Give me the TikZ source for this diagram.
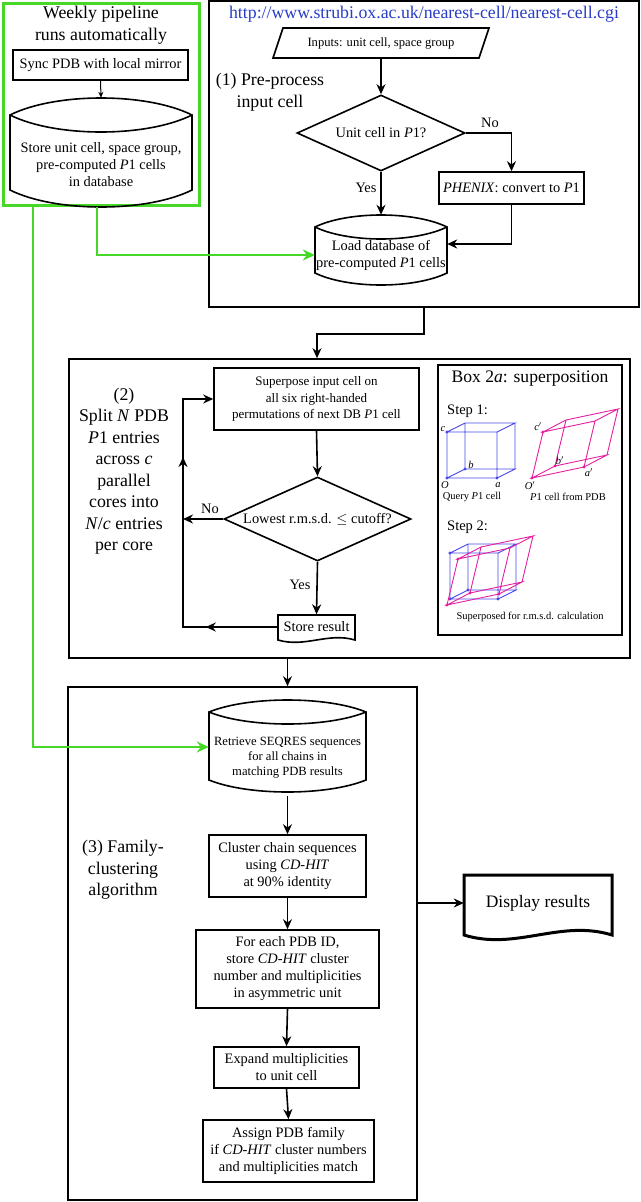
\documentclass[tikz,border=0pt]{standalone}
\usepackage{fontspec}
\setmainfont{Liberation Serif}
\usetikzlibrary{arrows.meta,positioning,calc,shapes.geometric}
\definecolor{grn}{RGB}{70,215,40}
\definecolor{urlblue}{RGB}{40,60,200}
\definecolor{cellblue}{RGB}{70,70,235}
\definecolor{cellmag}{RGB}{230,30,160}
\newcommand{\fbig}{\fontsize{17.8}{21.5}\selectfont}
\newcommand{\fmid}{\fontsize{14.4}{17}\selectfont}
\newcommand{\fsml}{\fontsize{12.6}{15}\selectfont}
\newcommand{\ftin}{\fontsize{10.5}{12}\selectfont}
% storage outline: left, right, top corner, bottom corner, bulge
\newcommand{\dbshape}[5]{%
  \draw[line] (#1,#3) .. controls ({#1+(#2-#1)/4},{#3-4*#5/3}) and ({#2-(#2-#1)/4},{#3-4*#5/3}) .. (#2,#3)
    -- (#2,#4) .. controls ({#2-(#2-#1)/4},{#4+4*#5/3}) and ({#1+(#2-#1)/4},{#4+4*#5/3}) .. (#1,#4) -- cycle;
  \draw[line] (#1,#3) .. controls ({#1+(#2-#1)/4},{#3+4*#5/3}) and ({#2-(#2-#1)/4},{#3+4*#5/3}) .. (#2,#3);}
% document outline: left, right, top, bottom, wave
\newcommand{\docshape}[6][]{%
  \draw[line,#1] (#2,#5) -- (#2,#4) -- (#3,#4) -- (#3,#5)
    .. controls ({#3-(#3-#2)*0.35},{#5-2*#6}) and ({#2+(#3-#2)*0.35},{#5+2*#6}) .. (#2,#5) -- cycle;}
% unit cell: origin, a, b, c, colour
\newcommand{\ucell}[5]{%
  \coordinate (O) at #1;
  \coordinate (A) at ($(O)+#2$);
  \coordinate (B) at ($(O)+#3$);
  \coordinate (C) at ($(O)+#4$);
  \coordinate (AB) at ($(A)+#3$);
  \coordinate (AC) at ($(A)+#4$);
  \coordinate (BC) at ($(B)+#4$);
  \coordinate (ABC) at ($(AB)+#4$);
  \draw[#5, line width=0.9pt] (O)--(A)--(AB)--(B)--cycle (C)--(AC)--(ABC)--(BC)--cycle
    (O)--(C) (A)--(AC) (B)--(BC) (AB)--(ABC);
  \fill[#5] (O) circle (1.7) (A) circle (1.7) (B) circle (1.7) (C) circle (1.7);}
\tikzset{
  line/.style={line width=1.6pt},
  box/.style={draw, line, rectangle, inner sep=0pt, align=center, font=\fmid},
  frame/.style={draw, line, rectangle, inner sep=0pt},
  txt/.style={inner sep=0pt, align=center, font=\fmid},
  dec/.style={draw, line, diamond, aspect=2.2, inner sep=0pt, font=\fmid},
  arr/.style={line, -{Stealth[length=10pt,width=9pt]}},
  garr/.style={line width=2.2pt, grn, -{Stealth[length=12pt,width=11pt]}}}

\begin{document}
\begin{tikzpicture}[x=1pt,y=-1pt]
\useasboundingbox (0,0) rectangle (640,1202);

% weekly pipeline
\node (gbox) [frame, draw=grn, line width=3pt, minimum width=196pt, minimum height=202pt] at (101,104) {};
\node (wk) [txt, font=\fbig] at (101,25) {Weekly pipeline\\runs automatically};
\node (sync) [box, minimum width=175pt, minimum height=30pt] at (100.5,65) {Sync PDB with local mirror};
\dbshape{10}{192}{115}{190}{17}
\node (store) [txt, minimum width=182pt, minimum height=70pt] at (101,165) {Store unit cell, space group,\\pre-computed \textit{P}1 cells\\in database};
\draw [line, -{Stealth[length=6pt,width=5pt]}, line width=1pt] (sync.south) -- ([yshift=32pt]store.north);

% (1) pre-process
\node (box1) [frame, minimum width=430pt, minimum height=306pt] at (424,154) {};
\node (url) [txt, font=\fbig, text=urlblue] at (424,14) {http://www.strubi.ox.ac.uk/nearest-cell/nearest-cell.cgi};
\draw [line] (283,28) -- (489,28) -- (479,58) -- (273,58) -- cycle;
\node (inp) [txt, font=\fsml, minimum width=190pt, minimum height=30pt] at (381,43) {Inputs: unit cell, space group};
\node (pre) [txt, font=\fbig] at (270,92) {(1) Pre-process\\input cell};
\node (dia1) [dec, minimum width=168pt, minimum height=76pt] at (381,133) {Unit cell in \textit{P}1?};
\node (phx) [box, minimum width=145pt, minimum height=32pt] at (511.5,188) {\textit{PHENIX}: convert to \textit{P}1};
\dbshape{315}{447}{227}{273}{12}
\node (load) [txt, minimum width=132pt, minimum height=60pt] at (381,255) {Load database of\\pre-computed \textit{P}1 cells};
\node (no1) [txt] at (490,123) {No};
\node (yes1) [txt] at (366,188) {Yes};
\draw [arr] (inp.south) -- (dia1.north);
\draw [arr] (dia1.east) -| (phx.north);
\draw [arr] (dia1.south) -- ([yshift=10pt]load.north);
\draw [arr] (phx.south) |- ([yshift=11pt]load.east);
\draw [garr] ([xshift=-4pt]gbox.south) |- (load.west);

% (2) superposition
\node (box2) [frame, minimum width=561pt, minimum height=299pt] at (349.5,508.5) {};
\draw [arr] (box1.south) -- ++(0,26) -| (box2.north -| 317,0);
\node (sp) [box, font=\fontsize{13}{16.5}\selectfont, minimum width=205pt, minimum height=62pt] at (316.5,399) {Superpose input cell on\\all six right-handed\\permutations of next DB \textit{P}1 cell};
\node (dia2) [dec, minimum width=187pt, minimum height=84pt] at (317.5,519) {Lowest r.m.s.d. $\le$ cutoff?};
\docshape{278}{355}{615}{640}{4}
\node (st) [txt, minimum width=77pt, minimum height=25pt] at (316.5,627) {Store result};
\node (split) [txt, font=\fbig] at (124,471) {(2)\\Split \textit{N} PDB\\\textit{P}1 entries\\across \textit{c}\\parallel\\cores into\\\textit{N}/\textit{c} entries\\per core};
\node (no2) [txt] at (210,509) {No};
\node (yes2) [txt] at (300,585) {Yes};
\coordinate (lp) at (183,519);
\draw [arr] (sp.south) -- (dia2.north);
\draw [arr] (dia2.south) -- (st.north);
\draw [arr] (dia2.west) -- (lp);
\draw [arr] (st.west) -| (lp) |- (sp.west);
\draw [arr] (st.west) -- ++(-72,0);
\draw [arr] (lp) -- ++(0,-62);

% box 2a
\node (box2a) [frame, line width=1.1pt, minimum width=184pt, minimum height=270pt] at (530,500) {};
\node (bt) [txt, font=\fontsize{17.6}{20}\selectfont] at (530,379) {Box 2\textit{a}: superposition};
\node (s1) [txt, font=\fontsize{14.5}{16}\selectfont, anchor=west] at (447,411) {Step 1:};
\ucell{(447,478)}{(50,0)}{(18,-9)}{(0,-46)}{cellblue}
\ucell{(532,478)}{(52,-11)}{(23,-12)}{(11,-46)}{cellmag}
\node (lc) [txt, font=\ftin\itshape] at (443,429) {c};
\node (lo) [txt, font=\ftin\itshape] at (445,485) {O};
\node (la) [txt, font=\ftin\itshape] at (498,485) {a};
\node (lb) [txt, font=\ftin\itshape] at (471,465) {b};
\node (lc2) [txt, font=\ftin\itshape] at (538,427) {c$'$};
\node (lo2) [txt, font=\ftin\itshape] at (530,486) {O$'$};
\node (la2) [txt, font=\ftin\itshape] at (589,473) {a$'$};
\node (lb2) [txt, font=\ftin\itshape] at (560,461) {b$'$};
\node (q1) [txt, font=\ftin] at (472,497) {Query \textit{P}1 cell};
\node (q2) [txt, font=\ftin] at (568,497) {\textit{P}1 cell from PDB};
\node (s2) [txt, font=\fontsize{14.5}{16}\selectfont, anchor=west] at (447,527) {Step 2:};
\ucell{(450,599)}{(48,0)}{(18,-9)}{(0,-46)}{cellblue}
\ucell{(447,605)}{(52,-11)}{(23,-12)}{(11,-46)}{cellmag}
\node (q3) [txt, font=\ftin] at (530,617) {Superposed for r.m.s.d. calculation};

% (3) family clustering
\node (box3) [frame, minimum width=349pt, minimum height=513pt] at (242.5,943.5) {};
\dbshape{209}{366}{712}{780}{12}
\node (ret) [txt, font=\fsml, minimum width=157pt, minimum height=76pt] at (287.5,758) {Retrieve SEQRES sequences\\for all chains in\\matching PDB results};
\draw [arr] (box2.south -| ret.north) -- (box3.north -| ret.north);
\node (fam) [txt, font=\fbig] at (123,870) {(3) Family-\\clustering\\algorithm};
\node (cl) [box, minimum width=157pt, minimum height=62pt] at (287.5,866) {Cluster chain sequences\\using \textit{CD-HIT}\\at 90\% identity};
\node (fe) [box, minimum width=183pt, minimum height=78pt] at (287.5,969) {For each PDB ID,\\store \textit{CD-HIT} cluster\\number and multiplicities\\in asymmetric unit};
\node (ex) [box, minimum width=145pt, minimum height=41pt] at (286.5,1067.5) {Expand multiplicities\\to unit cell};
\node (as) [box, minimum width=171pt, minimum height=62pt] at (288.5,1151) {Assign PDB family\\if \textit{CD-HIT} cluster numbers\\and multiplicities match};
\draw [arr] (ret.south) -- (cl.north);
\draw [arr] (cl.south) -- (fe.north);
\draw [arr] (fe.south) -- (ex.north);
\draw [arr] (ex.south) -- (as.north);
\draw [garr] ([xshift=-68pt]gbox.south) |- ([yshift=11pt]ret.west);

% display
\docshape[line width=3pt]{464}{612}{875}{935}{8}
\node (disp) [txt, font=\fontsize{17.5}{20}\selectfont, minimum width=148pt, minimum height=56pt] at (538,903) {Display results};
\draw [arr] (box3.east |- disp.west) -- (disp.west);
\end{tikzpicture}
\end{document}
